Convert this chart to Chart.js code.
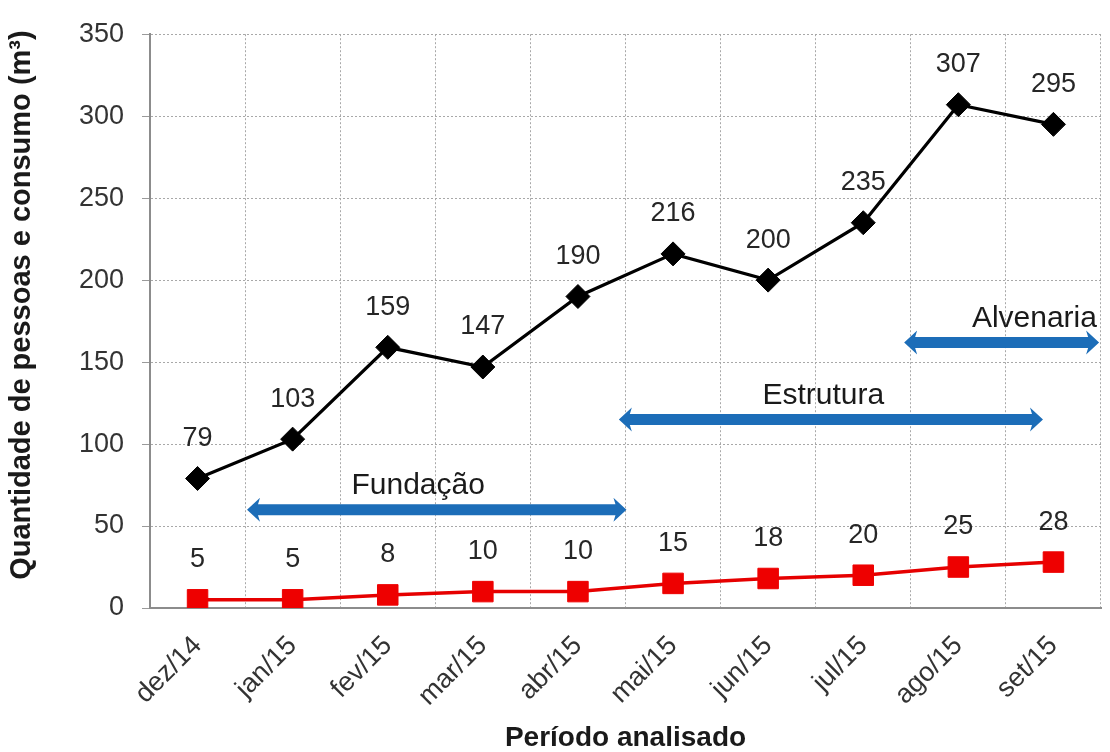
<!DOCTYPE html>
<html>
<head>
<meta charset="utf-8">
<script src="https://cdn.jsdelivr.net/npm/chart.js@4.4.1/dist/chart.umd.min.js"></script>
<style>
  html, body { margin: 0; padding: 0; background: #ffffff; }
  #wrap { width: 1110px; height: 752px; }
</style>
</head>
<body>
<div id="wrap"><canvas id="chart" width="1110" height="752"></canvas></div>
<script>
// Months of the analysed period
const months = ['dez/14', 'jan/15', 'fev/15', 'mar/15', 'abr/15', 'mai/15', 'jun/15', 'jul/15', 'ago/15', 'set/15'];
// Water consumption (m³) per month
const consumo = [79, 103, 159, 147, 190, 216, 200, 235, 307, 295];
// Number of people on site per month
const pessoas = [5, 5, 8, 10, 10, 15, 18, 20, 25, 28];
// Y axis range
const yMin = 0;
const yMax = 350;
const yStep = 50;

// Construction phases: span in category units and height in axis units
const phaseNames = ['Fundação', 'Estrutura', 'Alvenaria'];
const phaseFrom = [0.52, 4.43, 7.43];
const phaseTo = [4.51, 8.89, 9.48];
const phaseLevel = [60, 115, 162];
const phaseLabelAt = [2.32, 6.58, 8.8];

const yTitle = 'Quantidade de pessoas e consumo (m³)';

const FONT = '"Liberation Sans", Arial, sans-serif';

// Value labels above every point
const valueLabels = {
  id: 'valueLabels',
  afterDatasetsDraw(chart) {
    const ctx = chart.ctx;
    ctx.save();
    ctx.font = '27px ' + FONT;
    ctx.fillStyle = '#262626';
    ctx.textAlign = 'center';
    ctx.textBaseline = 'middle';
    chart.data.datasets.forEach((ds, i) => {
      chart.getDatasetMeta(i).data.forEach((pt, j) => {
        ctx.fillText(String(ds.data[j]), pt.x, pt.y - 40);
      });
    });
    ctx.restore();
  }
};

// Double-headed arrows marking the construction phases
function doubleArrow(ctx, x1, x2, y) {
  const hl = 13, hw = 12, sw = 5.5;
  ctx.beginPath();
  ctx.moveTo(x1, y);
  ctx.lineTo(x1 + hl, y - hw);
  ctx.lineTo(x1 + hl - 2, y - sw);
  ctx.lineTo(x2 - hl + 2, y - sw);
  ctx.lineTo(x2 - hl, y - hw);
  ctx.lineTo(x2, y);
  ctx.lineTo(x2 - hl, y + hw);
  ctx.lineTo(x2 - hl + 2, y + sw);
  ctx.lineTo(x1 + hl - 2, y + sw);
  ctx.lineTo(x1 + hl, y + hw);
  ctx.closePath();
  ctx.fill();
}

const phaseArrows = {
  id: 'phaseArrows',
  afterDatasetsDraw(chart) {
    const ctx = chart.ctx;
    const xs = chart.scales.x;
    const ys = chart.scales.y;
    ctx.save();
    phaseNames.forEach((name, i) => {
      const x1 = xs.getPixelForValue(phaseFrom[i]);
      const x2 = xs.getPixelForValue(phaseTo[i]);
      const y = ys.getPixelForValue(phaseLevel[i]);
      ctx.fillStyle = '#1c6db8';
      doubleArrow(ctx, x1, x2, y);
      ctx.fillStyle = '#1a1a1a';
      ctx.font = '30px ' + FONT;
      ctx.textAlign = 'center';
      ctx.textBaseline = 'middle';
      ctx.fillText(name, xs.getPixelForValue(phaseLabelAt[i]), y - 24);
    });
    ctx.restore();
  }
};

// Vertical axis title, placed slightly above the axis centre
const yAxisTitle = {
  id: 'yAxisTitle',
  afterDraw(chart) {
    const ctx = chart.ctx;
    const ys = chart.scales.y;
    ctx.save();
    ctx.translate(22, (ys.top + ys.bottom) / 2 - 16);
    ctx.rotate(-Math.PI / 2);
    ctx.font = 'bold 29px ' + FONT;
    ctx.fillStyle = '#1a1a1a';
    ctx.textAlign = 'center';
    ctx.textBaseline = 'middle';
    ctx.fillText(yTitle, 0, 0);
    ctx.restore();
  }
};

new Chart(document.getElementById('chart'), {
  type: 'line',
  data: {
    labels: months,
    datasets: [
      {
        label: 'Consumo (m³)',
        data: consumo,
        borderColor: '#000000',
        backgroundColor: '#000000',
        borderWidth: 3.2,
        pointStyle: 'rectRot',
        pointRadius: 12,
        pointBorderWidth: 1,
        pointBackgroundColor: '#000000',
        pointBorderColor: '#000000',
        tension: 0
      },
      {
        label: 'Pessoas',
        data: pessoas,
        borderColor: '#e60000',
        backgroundColor: '#e60000',
        borderWidth: 3.5,
        pointStyle: 'rect',
        pointRadius: 14.5,
        pointBorderWidth: 1,
        pointBackgroundColor: '#ee0000',
        pointBorderColor: '#ee0000',
        tension: 0
      }
    ]
  },
  options: {
    responsive: false,
    animation: false,
    events: [],
    layout: { autoPadding: false, padding: { top: 29, right: 9, left: 0, bottom: 0 } },
    plugins: {
      legend: { display: false },
      tooltip: { enabled: false },
      title: { display: false }
    },
    scales: {
      x: {
        offset: true,
        afterFit(scale) {
          scale.height = 144;
          scale.paddingLeft = 0;
          scale.paddingRight = 0;
        },
        grid: {
          offset: true,
          color: '#a8a8a8',
          lineWidth: 1,
          drawTicks: false
        },
        border: { display: true, color: '#8c8c8c', width: 2, dash: [2, 2] },
        ticks: {
          minRotation: 45,
          maxRotation: 45,
          padding: 22,
          color: '#333333',
          font: { family: FONT, size: 27 }
        },
        title: {
          display: true,
          text: 'Período analisado',
          color: '#1a1a1a',
          padding: { top: 0, bottom: 0 },
          font: { family: FONT, size: 28, weight: 'bold', lineHeight: 1 }
        }
      },
      y: {
        min: yMin,
        max: yMax,
        afterFit(scale) { scale.width = 150; },
        grid: {
          color: '#a8a8a8',
          lineWidth: 1,
          tickLength: 8,
          tickColor: '#9a9a9a'
        },
        border: { display: true, color: '#8c8c8c', width: 2, dash: [2, 2] },
        ticks: {
          stepSize: yStep,
          padding: 18,
          color: '#333333',
          font: { family: FONT, size: 27 }
        },
        title: { display: false }
      }
    }
  },
  plugins: [phaseArrows, valueLabels, yAxisTitle]
});
</script>
</body>
</html>
